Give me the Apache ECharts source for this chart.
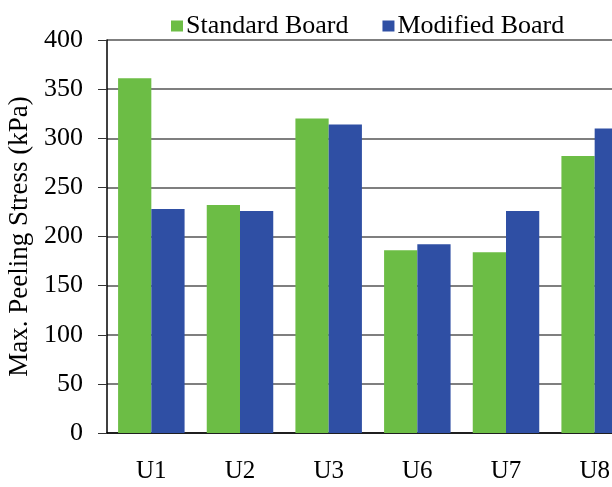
<!DOCTYPE html>
<html>
<head>
<meta charset="utf-8">
<script src="https://cdn.jsdelivr.net/npm/echarts@6.0.0/dist/echarts.min.js"></script>
<style>
  html, body { margin: 0; padding: 0; background: #fff; }
  #chart { width: 612px; height: 487px; }
</style>
</head>
<body>
<div id="chart"></div>
<script>
const categories = ['U1', 'U2', 'U3', 'U6', 'U7', 'U8'];
const standardBoard = [361, 232, 320, 186, 184, 282];
const modifiedBoard = [228, 226, 314, 192, 226, 310];
const yTicks = [0, 50, 100, 150, 200, 250, 300, 350, 400];

const font = '"Liberation Serif", "Times New Roman", serif';
const chart = echarts.init(document.getElementById('chart'));

chart.setOption({
  animation: false,
  textStyle: { fontFamily: font },
  legend: {
    left: 166,
    top: 8,
    itemWidth: 12,
    itemHeight: 11,
    itemGap: 34,
    icon: 'rect',
    textStyle: { fontFamily: font, fontSize: 26, color: '#000', padding: [0, 0, 0, -2] },
    data: ['Standard Board', 'Modified Board']
  },
  grid: {
    left: 107,
    right: -27,
    top: 40,
    bottom: 54,
    outerBoundsMode: 'none'
  },
  xAxis: {
    type: 'category',
    data: categories,
    axisLine: { lineStyle: { color: '#000', width: 1.5 } },
    axisTick: { show: false },
    axisLabel: { fontFamily: font, fontSize: 25, color: '#000', margin: 26 }
  },
  yAxis: {
    type: 'value',
    min: yTicks[0],
    max: yTicks[yTicks.length - 1],
    interval: 50,
    name: 'Max. Peeling Stress (kPa)',
    nameLocation: 'middle',
    nameGap: 72,
    nameTextStyle: { fontFamily: font, fontSize: 27, color: '#000' },
    axisLine: { show: true, lineStyle: { color: '#000', width: 1.5 } },
    axisTick: { show: true, length: 9, lineStyle: { color: '#333' } },
    axisLabel: { fontFamily: font, fontSize: 26, color: '#000', margin: 24 },
    splitLine: { lineStyle: { color: '#555', width: 1.5 } }
  },
  series: [
    {
      name: 'Standard Board',
      type: 'bar',
      data: standardBoard,
      barGap: '0%',
      barCategoryGap: '25%',
      itemStyle: { color: '#6cbd45' }
    },
    {
      name: 'Modified Board',
      type: 'bar',
      data: modifiedBoard,
      itemStyle: { color: '#2f4fa4' }
    }
  ]
});
</script>
</body>
</html>
